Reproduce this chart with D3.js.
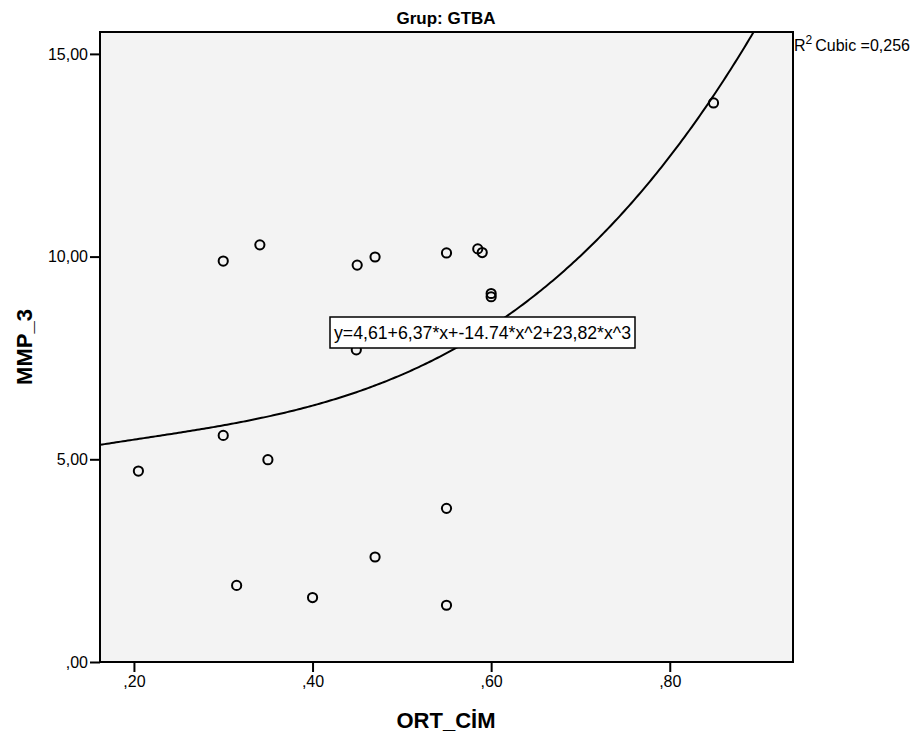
<!DOCTYPE html>
<html>
<head>
<meta charset="utf-8">
<script src="https://cdn.jsdelivr.net/npm/d3@7"></script>
<style>
  body { margin: 0; background: #fff; }
  text { font-family: "Liberation Sans", Arial, sans-serif; fill: #000; }
</style>
</head>
<body>
<svg id="chart" width="920" height="738"></svg>
<script>
// data
var ortCim = [0.205, 0.300, 0.341, 0.450, 0.470, 0.550, 0.585, 0.590, 0.600, 0.600,
              0.449, 0.300, 0.350, 0.315, 0.400, 0.470, 0.550, 0.550, 0.849];
var mmp3   = [4.71, 9.89, 10.29, 9.79, 9.99, 10.09, 10.19, 10.10, 9.09, 9.01,
              7.70, 5.59, 4.99, 1.89, 1.59, 2.59, 3.79, 1.40, 13.79];

// cubic fit coefficients b0..b3
var coef = [4.61, 6.37, -14.74, 23.82];
var xTicks = [0.2, 0.4, 0.6, 0.8];
var yTicks = [0, 5, 10, 15];
var xDomain = [0.162, 0.938];
var yDomain = [0, 15.54];

var svg = d3.select("#chart");
var plotL = 100, plotT = 32, plotR = 793, plotB = 662;

var x = d3.scaleLinear().domain(xDomain).range([plotL, plotR]);
var y = d3.scaleLinear().domain(yDomain).range([plotB, plotT]);

function fmtComma(d, digits) {
  var s = d.toFixed(digits).replace(".", ",");
  return s.replace(/^0,/, ",");
}

// plot background
svg.append("rect")
  .attr("x", plotL).attr("y", plotT)
  .attr("width", plotR - plotL).attr("height", plotB - plotT)
  .attr("fill", "#f3f3f3");

svg.append("defs").append("clipPath").attr("id", "plotclip")
  .append("rect")
  .attr("x", plotL).attr("y", plotT)
  .attr("width", plotR - plotL).attr("height", plotB - plotT);

// fit line
var lineData = d3.range(0, 301).map(function (i) {
  var xv = xDomain[0] + (xDomain[1] - xDomain[0]) * i / 300;
  return [xv, coef[0] + coef[1] * xv + coef[2] * xv * xv + coef[3] * xv * xv * xv];
});

svg.append("path")
  .datum(lineData)
  .attr("clip-path", "url(#plotclip)")
  .attr("fill", "none")
  .attr("stroke", "#000")
  .attr("stroke-width", 2)
  .attr("d", d3.line().x(function (d) { return x(d[0]); }).y(function (d) { return y(d[1]); }));

// points
svg.append("g")
  .selectAll("circle")
  .data(ortCim.map(function (d, i) { return [d, mmp3[i]]; }))
  .enter().append("circle")
  .attr("cx", function (d) { return x(d[0]); })
  .attr("cy", function (d) { return y(d[1]); })
  .attr("r", 4.6)
  .attr("fill", "none")
  .attr("stroke", "#000")
  .attr("stroke-width", 2);

// equation label
var eq = svg.append("g");
eq.append("rect")
  .attr("x", 330).attr("y", 317)
  .attr("width", 305).attr("height", 31)
  .attr("fill", "#fff")
  .attr("stroke", "#000")
  .attr("stroke-width", 1.5);
eq.append("text")
  .attr("x", 334).attr("y", 339)
  .attr("font-size", 19)
  .attr("textLength", 297)
  .attr("lengthAdjust", "spacingAndGlyphs")
  .text("y=4,61+6,37*x+-14.74*x^2+23,82*x^3");

// frame
svg.append("rect")
  .attr("x", plotL).attr("y", plotT)
  .attr("width", plotR - plotL).attr("height", plotB - plotT)
  .attr("fill", "none")
  .attr("stroke", "#000")
  .attr("stroke-width", 2);

// axes
var yAxis = svg.append("g")
  .attr("transform", "translate(" + plotL + ",0)")
  .call(d3.axisLeft(y).tickValues(yTicks).tickSize(10).tickPadding(2)
    .tickFormat(function (d) { return fmtComma(d, 2); }));
yAxis.select(".domain").remove();
yAxis.selectAll("line").attr("stroke-width", 2);
yAxis.selectAll("text").attr("font-size", 16).attr("font-family", "Liberation Sans, Arial, sans-serif");

var xAxis = svg.append("g")
  .attr("transform", "translate(0," + plotB + ")")
  .call(d3.axisBottom(x).tickValues(xTicks).tickSize(10).tickPadding(4)
    .tickFormat(function (d) { return fmtComma(d, 2); }));
xAxis.select(".domain").remove();
xAxis.selectAll("line").attr("stroke-width", 2);
xAxis.selectAll("text").attr("font-size", 16).attr("font-family", "Liberation Sans, Arial, sans-serif");

// titles
svg.append("text")
  .attr("x", 446).attr("y", 24)
  .attr("text-anchor", "middle")
  .attr("font-size", 17)
  .attr("font-weight", "bold")
  .text("Grup: GTBA");

svg.append("text")
  .attr("x", 446).attr("y", 728)
  .attr("text-anchor", "middle")
  .attr("font-size", 22)
  .attr("font-weight", "bold")
  .text("ORT_CİM");

svg.append("text")
  .attr("transform", "translate(32,347) rotate(-90)")
  .attr("text-anchor", "middle")
  .attr("font-size", 22)
  .attr("font-weight", "bold")
  .text("MMP_3");

// R squared
var r2 = svg.append("text")
  .attr("x", 794).attr("y", 51)
  .attr("font-size", 16);
r2.append("tspan").text("R");
r2.append("tspan").attr("dy", -7).attr("font-size", 12).text("2");
r2.append("tspan").attr("dy", 7).attr("dx", 3).text("Cubic =0,256");
</script>
</body>
</html>
